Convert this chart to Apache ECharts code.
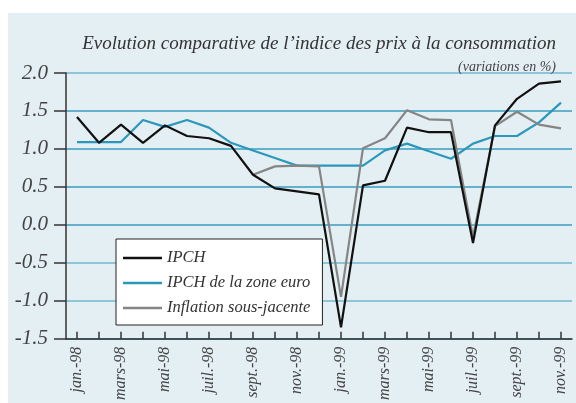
<!DOCTYPE html>
<html>
<head>
<meta charset="utf-8">
<script src="https://cdn.jsdelivr.net/npm/echarts@6/dist/echarts.min.js"></script>
<style>
html,body{margin:0;padding:0;background:#ffffff;}
#c{width:576px;height:403px;}
</style>
</head>
<body>
<div id="c"></div>
<script>
const categories = ['jan.-98','févr.-98','mars-98','avr.-98','mai-98','juin-98','juil.-98','août-98','sept.-98','oct.-98','nov.-98','déc.-98',
  'jan.-99','févr.-99','mars-99','avr.-99','mai-99','juin-99','juil.-99','août-99','sept.-99','oct.-99','nov.-99'];
const ipch = [1.42,1.08,1.32,1.08,1.31,1.17,1.14,1.04,0.66,0.48,0.44,0.40,
  -1.35,0.52,0.58,1.28,1.22,1.22,-0.24,1.31,1.66,1.86,1.89];
const ipchZoneEuro = [1.09,1.09,1.09,1.38,1.29,1.38,1.28,1.08,0.98,0.88,0.78,0.78,
  0.78,0.78,0.98,1.07,0.97,0.87,1.07,1.17,1.17,1.35,1.61];
const inflationSousJacente = [null,null,null,null,null,null,null,null,0.66,0.77,0.78,0.77,
  -0.95,1.01,1.14,1.51,1.39,1.38,-0.16,1.30,1.49,1.32,1.27];
const yTicks = {min:-1.5, max:2.0, step:0.5};

const serif = '"Liberation Serif", "DejaVu Serif", serif';
const chart = echarts.init(document.getElementById('c'), null, {renderer:'canvas'});
chart.setOption({
  animation:false,
  backgroundColor:'#ffffff',
  graphic:[{type:'rect', left:8, top:13, shape:{width:568, height:390}, style:{fill:'#e4eff4'}, z:-10}],
  title:[
    {text:'Evolution comparative de l\u2019indice des prix à la consommation', right:15, top:29,
     textStyle:{fontFamily:serif, fontStyle:'italic', fontWeight:'normal', fontSize:19, color:'#333'}},
    {text:'(variations en %)', right:15, top:55,
     textStyle:{fontFamily:serif, fontStyle:'italic', fontWeight:'normal', fontSize:14, color:'#444'}}
  ],
  legend:{
    orient:'vertical', left:116, top:239,
    backgroundColor:'#ffffff', borderColor:'#222', borderWidth:1, borderRadius:0,
    padding:[10,12,8,7], itemWidth:39, itemHeight:2.5, itemGap:7, icon:'rect',
    textStyle:{fontFamily:serif, fontStyle:'italic', fontSize:16.5, color:'#333', lineHeight:18},
    data:['IPCH','IPCH de la zone euro','Inflation sous-jacente']
  },
  grid:{left:66, right:4, top:73, bottom:63},
  xAxis:{
    type:'category', data:categories, boundaryGap:true,
    axisLine:{onZero:false, lineStyle:{color:'#333', width:1.5}},
    axisTick:{show:true, inside:true, length:7, alignWithLabel:true, interval:0, lineStyle:{color:'#333', width:1.5}},
    axisLabel:{interval:1, rotate:90, margin:8, fontFamily:serif, fontStyle:'italic', fontSize:16, color:'#444'},
    splitLine:{show:false}
  },
  yAxis:{
    type:'value', min:yTicks.min, max:yTicks.max, interval:yTicks.step,
    axisLine:{show:true, lineStyle:{color:'#333', width:1.5}},
    axisTick:{show:true, inside:false, length:12, lineStyle:{color:'#333', width:1.5}},
    axisLabel:{margin:18, fontFamily:serif, fontStyle:'italic', fontSize:21, color:'#444',
      formatter:v=>v.toFixed(1)},
    splitLine:{show:true, lineStyle:{color:['#3a9cc0','#72b8d0','#72b8d0','#3a9cc0','#3a9cc0','#3a9cc0','#3a9cc0','#72b8d0'], width:1.5}}
  },
  series:[
    {name:'IPCH', type:'line', data:ipch, symbol:'none', z:5,
     lineStyle:{color:'#111', width:2.2}, itemStyle:{color:'#111'}},
    {name:'IPCH de la zone euro', type:'line', data:ipchZoneEuro, symbol:'none', z:3,
     lineStyle:{color:'#2b98bb', width:2.2}, itemStyle:{color:'#2b98bb'}},
    {name:'Inflation sous-jacente', type:'line', data:inflationSousJacente, symbol:'none', z:4,
     lineStyle:{color:'#858585', width:2.2}, itemStyle:{color:'#858585'}}
  ]
});
</script>
</body>
</html>
